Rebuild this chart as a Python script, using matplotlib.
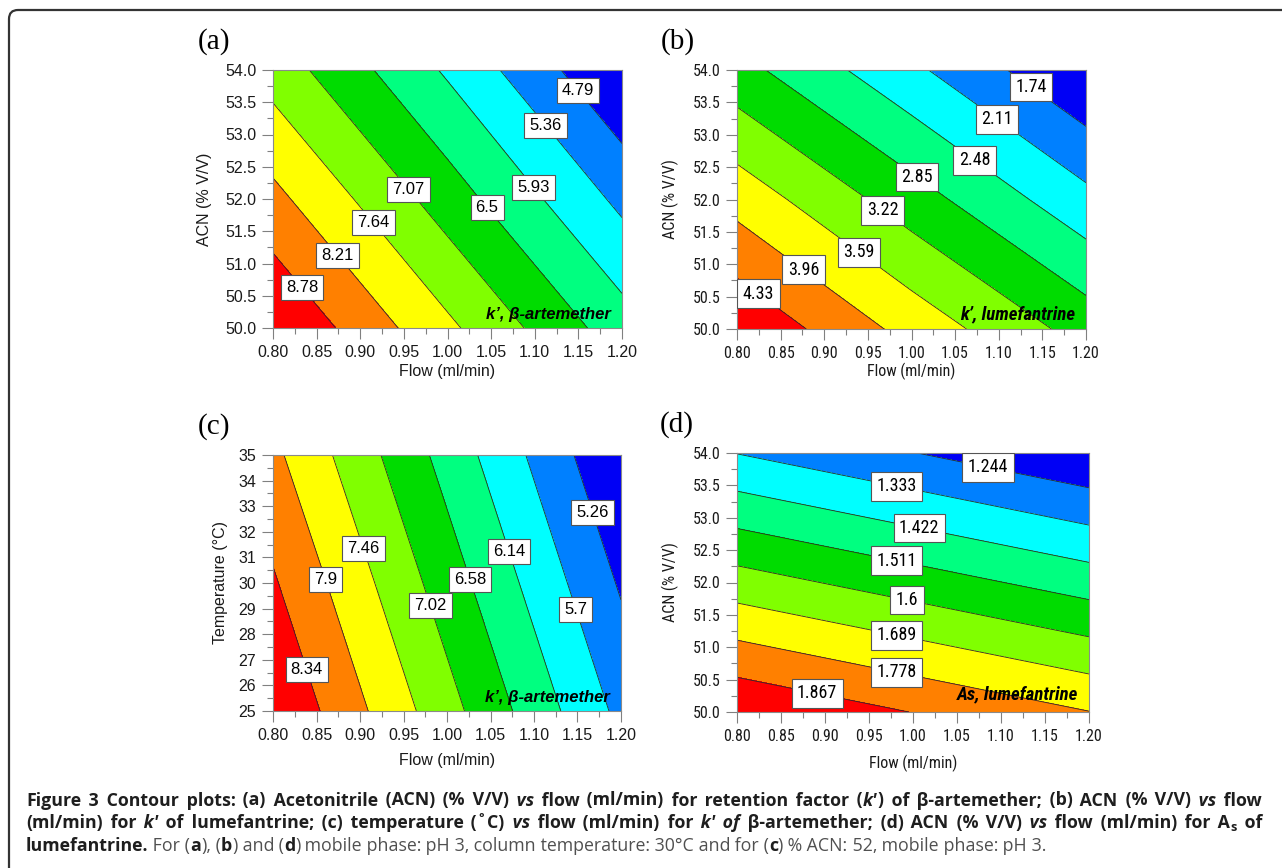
"""
Figure 3: contour plots of k' and As for beta-artemether / lumefantrine
"""

import re
import numpy as np
import matplotlib
matplotlib.use("Agg")
import matplotlib.pyplot as plt
from matplotlib import font_manager
from matplotlib.path import Path
from matplotlib.patches import PathPatch
from matplotlib.ticker import MultipleLocator, FormatStrFormatter

# ----------------------------------------------
# Data
# ----------------------------------------------

flow = [0.80, 1.00, 1.20]          # ml/min
acn = [50.0, 52.0, 54.0]           # % V/V
temp = [25.0, 30.0, 35.0]          # deg C

# rows follow the y values, columns follow flow
k_art_acn = [[9.35, 7.76, 6.19],
             [8.37, 6.79, 5.22],
             [7.39, 5.85, 4.22]]
k_lum_acn = [[4.66, 3.83, 3.07],
             [3.82, 3.02, 2.22],
             [2.98, 2.19, 1.37]]
k_art_temp = [[8.77, 7.18, 5.59],
              [8.39, 6.80, 5.21],
              [8.00, 6.42, 4.83]]
as_lum_acn = [[1.950, 1.865, 1.780],
              [1.640, 1.555, 1.470],
              [1.331, 1.246, 1.161]]

levels_a = [4.79, 5.36, 5.93, 6.5, 7.07, 7.64, 8.21, 8.78]
levels_b = [1.74, 2.11, 2.48, 2.85, 3.22, 3.59, 3.96, 4.33]
levels_c = [5.26, 5.7, 6.14, 6.58, 7.02, 7.46, 7.9, 8.34]
levels_d = [1.244, 1.333, 1.422, 1.511, 1.6, 1.689, 1.778, 1.867]

# ----------------------------------------------
# Fonts
# ----------------------------------------------

installed = {f.name for f in font_manager.fontManager.ttflist}

def pick(*names):
    for n in names:
        if n in installed:
            return n
    return "DejaVu Sans"

SANS = pick("Liberation Sans", "Arial")
NARROW = pick("Liberation Sans Narrow", "Roboto Condensed", "DejaVu Sans Condensed", "Liberation Sans")
SERIF = pick("Liberation Serif", "DejaVu Serif")
CAPTION = pick("Open Sans", "Noto Sans", "Liberation Sans")

W, H = 1282, 868
fig = plt.figure(figsize=(W / 100, H / 100), dpi=100)

# invisible full-figure axes in pixel units (origin top-left) for frame + caption
ax0 = fig.add_axes([0, 0, 1, 1])
ax0.set_xlim(0, W)
ax0.set_ylim(H, 0)
ax0.set_axis_off()

frame = Path([(9, H + 5), (9, 19), (9, 10), (18, 10), (W + 5, 10)],
             [Path.MOVETO, Path.LINETO, Path.CURVE3, Path.CURVE3, Path.LINETO])
ax0.add_patch(PathPatch(frame, fill=False, ec="#333333", lw=1.6, clip_on=False))

fill_colors = ["#0000F5", "#0080FF", "#00FFFF", "#00FF80", "#00DC00",
               "#80FF00", "#FFFF00", "#FF8000", "#FF0000"]


def add_ax(l, t, r, b):
    return fig.add_axes([l / W, 1 - b / H, (r - l) / W, (b - t) / H])


def draw_panel(rect, x, y, z, levels, label_pos, letter, note, note_y,
               ylabel, ystep, yfmt, font, xlab_y, ylab_x, lab_size, note_size):
    ax = add_ax(*rect)
    Z = np.array(z)
    bounds = [Z.min() - 1] + list(levels) + [Z.max() + 1]
    ax.contourf(x, y, Z, levels=bounds, colors=fill_colors)
    cs = ax.contour(x, y, Z, levels=levels, colors="#2a2a2a", linewidths=0.6)
    labels = ax.clabel(cs, inline=False, manual=label_pos,
                       fmt=lambda v: f"{v:g}", fontsize=lab_size)
    for t in labels:
        t.set_rotation(0)
        t.set_family(font)
        t.set_color("black")
        t.set_zorder(5)
        t.set_bbox(dict(boxstyle="square,pad=0.3", fc="white", ec="#555555", lw=0.8))

    ax.set_xlim(x[0], x[-1])
    ax.set_ylim(y[0], y[-1])
    ax.xaxis.set_major_locator(MultipleLocator(0.05))
    ax.xaxis.set_minor_locator(MultipleLocator(0.025))
    ax.xaxis.set_major_formatter(FormatStrFormatter("%.2f"))
    ax.yaxis.set_major_locator(MultipleLocator(ystep))
    ax.yaxis.set_minor_locator(MultipleLocator(ystep / 2))
    ax.yaxis.set_major_formatter(FormatStrFormatter(yfmt))
    ax.tick_params(which="major", length=8, width=0.8, color="#808080",
                   labelsize=11.5, labelcolor="#1a1a1a", pad=4)
    ax.tick_params(which="minor", length=4, width=0.8, color="#808080")
    for lab in ax.get_xticklabels() + ax.get_yticklabels():
        lab.set_family(font)
    for sp in ax.spines.values():
        sp.set_color("#8a8a8a")
        sp.set_linewidth(0.8)

    ax.set_xlabel("Flow (ml/min)", fontsize=11.5, family=font, color="#1a1a1a")
    ax.xaxis.label.set_va("center")
    ax.xaxis.set_label_coords(0.5, xlab_y)
    ax.set_ylabel(ylabel, fontsize=11.5, family=font, color="#1a1a1a")
    ax.yaxis.label.set_va("center")
    ax.yaxis.set_label_coords(ylab_x, 0.5)

    ax.text(0.968, note_y, note, transform=ax.transAxes, ha="right", va="baseline",
            fontsize=note_size, fontweight="bold", fontstyle="italic", family=font, zorder=6)
    ax.text(-0.17, 1.11, letter, transform=ax.transAxes, ha="center", va="center",
            fontsize=21, family=SERIF)
    return ax


draw_panel((273, 70, 622, 328), flow, acn, k_art_acn, levels_a,
           [(1.150, 53.68), (1.111, 53.13), (1.099, 52.19), (1.044, 51.85),
            (0.956, 52.16), (0.917, 51.65), (0.875, 51.14), (0.834, 50.63)],
           "(a)", "k\u2019, \u03b2-artemether", 0.035,
           "ACN (% V/V)", 0.5, "%.1f", SANS, -0.167, -0.195, 12, 12)

draw_panel((737, 70, 1086, 329), flow, acn, k_lum_acn, levels_b,
           [(1.136, 53.72), (1.097, 53.22), (1.071, 52.58), (1.006, 52.34),
            (0.967, 51.84), (0.942, 51.22), (0.877, 50.93), (0.825, 50.55)],
           "(b)", "k\u2019, lumefantrine", 0.035,
           "ACN (% V/V)", 0.5, "%.1f", NARROW, -0.162, -0.192, 13, 13.5)

draw_panel((273, 455, 621, 711), flow, temp, k_art_temp, levels_c,
           [(1.165, 32.72), (1.148, 28.97), (1.069, 31.20), (1.026, 30.14),
            (0.981, 29.11), (0.903, 31.33), (0.859, 30.14), (0.838, 26.60)],
           "(c)", "k\u2019, \u03b2-artemether", 0.035,
           "Temperature (\u00b0C)", 1, "%d", SANS, -0.195, -0.152, 12, 12)

draw_panel((737, 453, 1089, 712), flow, acn, as_lum_acn, levels_d,
           [(1.085, 53.76), (0.981, 53.48), (1.007, 52.83), (0.981, 52.33),
            (0.993, 51.72), (0.981, 51.18), (0.981, 50.62), (0.891, 50.28)],
           "(d)", "As, lumefantrine", 0.05,
           "ACN (% V/V)", 0.5, "%.1f", NARROW, -0.197, -0.19, 13, 13.5)

# ----------------------------------------------
# Caption, placed word by word (first two lines justified)
# ----------------------------------------------

caption = [
    [("Figure 3 Contour plots: (a) Acetonitrile (ACN) (% V/V)", "b"), (" vs", "bi"),
     (" flow (ml/min) for retention factor (", "b"), ("k\u2032", "bi"),
     (") of \u03b2-artemether; (b) ACN (% V/V)", "b"), (" vs", "bi"), (" flow", "b")],
    [("(ml/min) for", "b"), (" k\u2032", "bi"), (" of lumefantrine; (c) temperature (\u02daC)", "b"),
     (" vs", "bi"), (" flow (ml/min) for", "b"), (" k\u2032 of", "bi"),
     (" \u03b2-artemether; (d) ACN (% V/V)", "b"), (" vs", "bi"),
     (" flow (ml/min) for A", "b"), ("s", "sub"), (" of", "b")],
    [("lumefantrine.", "b"), (" For (", "r"), ("a", "b"), ("), (", "r"), ("b", "b"),
     (") and (", "r"), ("d", "b"), (") mobile phase: pH 3, column temperature: 30\u00b0C and for (", "r"),
     ("c", "b"), (") % ACN: 52, mobile phase: pH 3.", "r")],
]
baselines = [805.5, 828.3, 850.8]
cap_size = 12.8
left, right = 26, 1262

r = fig.canvas.get_renderer()
for i, (runs, yb) in enumerate(zip(caption, baselines)):
    x = left
    words = []
    for text, style in runs:
        for w in re.findall(r"\s*\S+", text):
            t = ax0.text(x, yb + (3 if style == "sub" else 0), w,
                         family=[CAPTION, "DejaVu Sans"], ha="left", va="baseline",
                         fontsize=cap_size * (0.72 if style == "sub" else 1.0),
                         fontweight="normal" if style == "r" else "bold",
                         fontstyle="italic" if style == "bi" else "normal",
                         color="#505050" if style == "r" else "#1e1e1e")
            x += t.get_window_extent(r).width
            words.append(t)
    if i < 2:
        # stretch the word gaps so the line ends at the right margin
        gaps = sum(1 for t in words[1:] if t.get_text().startswith(" "))
        step = (right - x) / gaps
        shift = 0
        for t in words[1:]:
            if t.get_text().startswith(" "):
                shift += step
            t.set_x(t.get_position()[0] + shift)

fig.savefig("out.png", dpi=100)
